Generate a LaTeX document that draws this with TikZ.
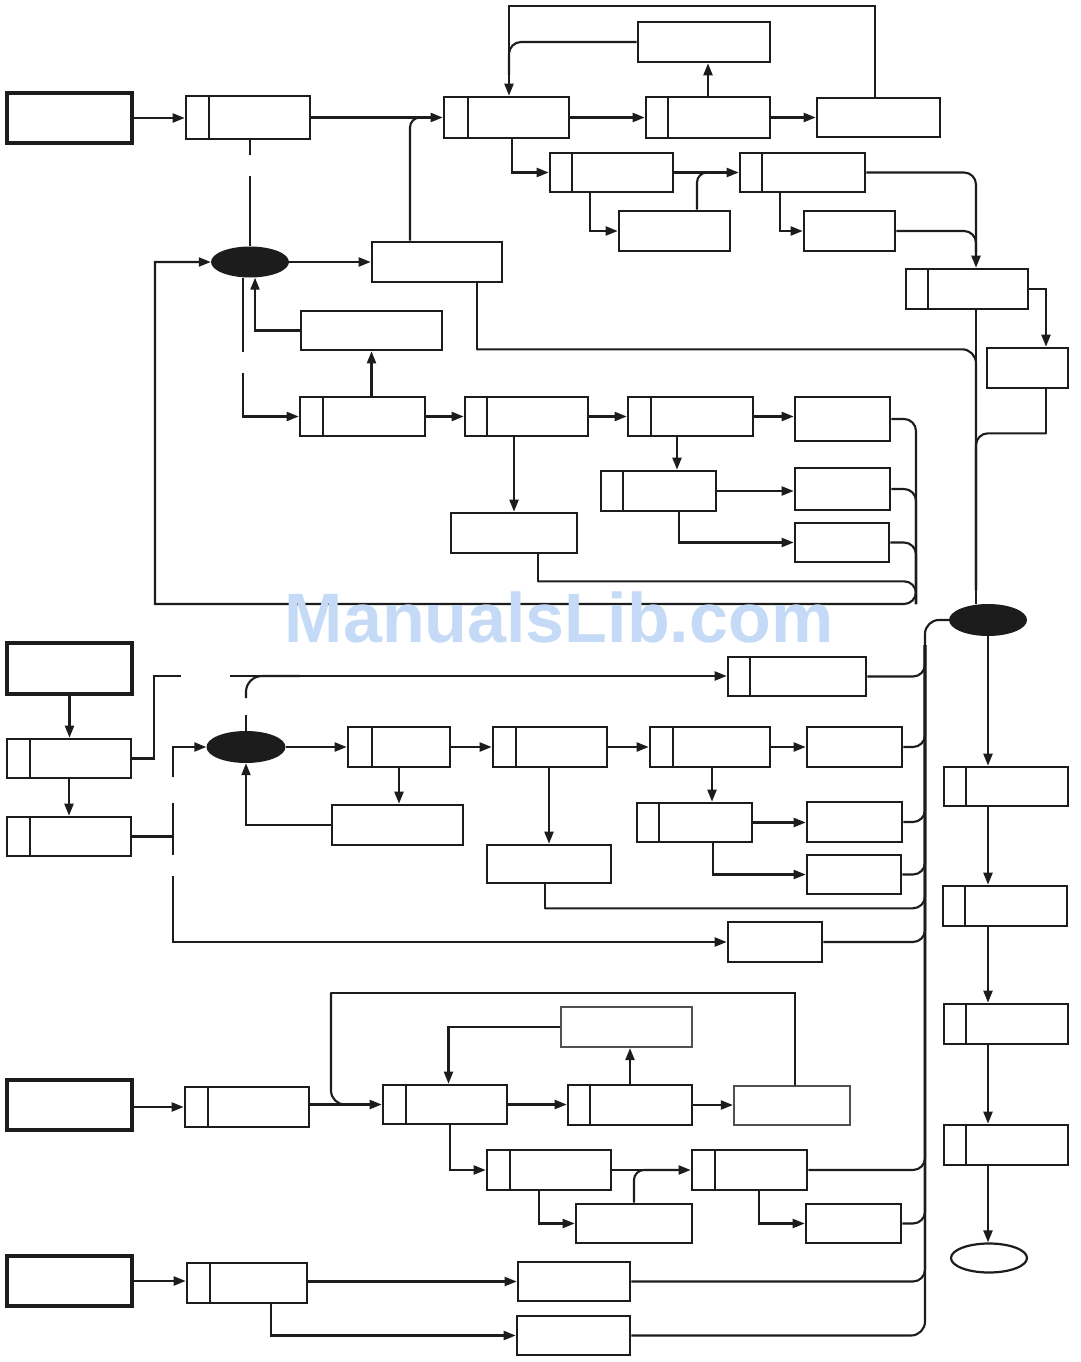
\documentclass[tikz,border=0pt]{standalone}
\usepackage{fontspec}
\newfontfamily\wmfont{Liberation Sans}
\usetikzlibrary{arrows.meta,shapes.geometric}
\definecolor{ink}{RGB}{28,28,28}
\definecolor{inkg}{RGB}{80,80,80}
\definecolor{wm}{RGB}{196,218,246}
\tikzset{
 box/.style={draw=ink,line width=2.6pt,fill=white,inner sep=0pt,rectangle},
 thickbox/.style={line width=4.2pt},
 graybox/.style={draw=inkg,line width=2.2pt},
 boxln/.style={draw=ink,line width=2.6pt},
 ln/.style={draw=ink,line width=2.1pt},
 ar/.style={ln,-{Triangle[length=12pt,width=9pt]}},
 blob/.style={ellipse,fill=ink,draw=none,inner sep=0pt},
}
\newcommand\bx[6][]{%
  \pgfmathsetmacro\bxw{#5-#3}\pgfmathsetmacro\bxh{#6-#4}%
  \pgfmathsetmacro\bxcx{(#3+#5)/2}\pgfmathsetmacro\bxcy{(#4+#6)/2}%
  \node[box,minimum width=\bxw pt,minimum height=\bxh pt,#1] (#2) at (\bxcx,\bxcy) {};}
\newcommand\sbx[7][]{%
  \bx[#1]{#2}{#3}{#4}{#5}{#6}%
  \draw[boxln] (#7,#4) -- (#7,#6);}
\begin{document}
\begin{tikzpicture}[x=1pt,y=-1pt]
\fill[white] (0,0) rectangle (1080,1362);
\path[use as bounding box] (0,0) rectangle (1080,1362);
% ---------------- top section ----------------
\bx[thickbox]{S1}{7}{93}{132}{143}
\sbx{A1}{186}{96}{310}{139}{209}
\sbx{B1}{444}{97}{569}{138}{468}
\bx{L1}{638}{22}{770}{62}
\sbx{B2}{646}{97}{770}{138}{668}
\bx{M1}{817}{98}{940}{137}
\sbx{N1}{550}{153}{673}{192}{572}
\sbx{N2}{740}{153}{865}{192}{762}
\bx{O1}{619}{211}{730}{251}
\bx{O2}{804}{211}{895}{251}
\sbx{H1}{906}{269}{1028}{309}{928}
\bx{P1}{987}{348}{1068}{388}
\bx{E1}{372}{242}{502}{282}
\node[blob,minimum width=78pt,minimum height=31pt] (J1) at (250,262) {};
\bx{F1}{301}{311}{442}{350}
\sbx{C1}{300}{397}{425}{436}{323}
\sbx{C2}{465}{397}{588}{436}{487}
\sbx{C3}{628}{397}{753}{436}{651}
\bx{K1}{795}{397}{890}{441}
\sbx{D1}{601}{471}{716}{511}{623}
\bx{K2}{795}{468}{890}{510}
\bx{K3}{795}{523}{889}{562}
\bx{G1}{451}{513}{577}{553}
\node[blob,minimum width=78pt,minimum height=32pt] (J3) at (988,620) {};
% ---------------- middle section ----------------
\bx[thickbox]{S2}{7}{643}{132}{694}
\sbx{A2}{7}{739}{131}{778}{30}
\sbx{A3}{7}{817}{131}{856}{30}
\node[blob,minimum width=79pt,minimum height=32pt] (J2) at (246,747) {};
\sbx{Q1}{728}{657}{866}{696}{750}
\sbx{D2}{348}{727}{450}{767}{372}
\bx{F2}{332}{805}{463}{845}
\sbx{D3}{493}{727}{607}{767}{516}
\bx{G2}{487}{845}{611}{883}
\sbx{D4}{650}{727}{770}{767}{673}
\bx{K4}{807}{727}{902}{767}
\sbx{D5}{637}{803}{752}{842}{659}
\bx{K5}{807}{802}{902}{842}
\bx{K6}{807}{855}{901}{894}
\bx{R1}{728}{922}{822}{962}
% ---------------- right column ----------------
\sbx{U1}{944}{767}{1068}{806}{966}
\sbx{U2}{943}{886}{1067}{926}{965}
\sbx{U3}{944}{1004}{1068}{1044}{966}
\sbx{U4}{944}{1125}{1068}{1165}{966}
\node[box,ellipse,line width=2.2pt,minimum width=76pt,minimum height=29pt] (V) at (989,1258) {};
% ---------------- bottom section ----------------
\bx[thickbox]{S3}{7}{1080}{132}{1130}
\sbx{A4}{185}{1087}{309}{1127}{208}
\sbx{B3}{383}{1085}{507}{1124}{406}
\bx[graybox]{L2}{561}{1007}{692}{1047}
\sbx{B4}{568}{1085}{692}{1125}{590}
\bx[graybox]{M2}{734}{1086}{850}{1125}
\sbx{N3}{487}{1150}{611}{1190}{510}
\sbx{N4}{692}{1150}{807}{1190}{715}
\bx{O3}{576}{1204}{692}{1243}
\bx{O4}{806}{1204}{901}{1243}
\bx[thickbox]{S4}{7}{1256}{132}{1306}
\sbx{A5}{187}{1263}{307}{1303}{210}
\bx{T1}{518}{1262}{630}{1301}
\bx{T2}{517}{1316}{630}{1355}
% ---------------- free coordinates ----------------
\coordinate (fb) at (916,604);
\coordinate (fbl) at (155,262);
\coordinate (j1a) at (243,373);
\coordinate (v976) at (976,590);
\coordinate (o2m) at (976,252);
\coordinate (b1m) at (509,75);
\coordinate (n2m) at (722,172.5);
\coordinate (e1m) at (430,117.5);
\coordinate (vj) at (925,645);
\coordinate (vt) at (925,620);
\coordinate (g1) at (181,676);
\coordinate (g2) at (230,676);
\coordinate (j2u) at (246,698);
\coordinate (j2r) at (300,676);
\coordinate (m1) at (173,747);
\coordinate (m2) at (173,777);
\coordinate (m3) at (173,803);
\coordinate (m4) at (173,855);
\coordinate (m5) at (173,876);
\coordinate (m6) at (173,942);
\coordinate (b3t) at (331,993);
\coordinate (b3j) at (365,1104.5);
\coordinate (n4j) at (680,1170);
% ---------------- top connectors ----------------
\draw[ar] (S1.east) -- (S1.east -| A1.west);
\draw[ar] (A1.east) -- (A1.east -| B1.west);
\draw[ln,rounded corners=10pt] ([xshift=-27pt]E1.north) |- (e1m);
\draw[ln] (A1.south -| J1.north) -- ++(0,15);
\draw[ln] (J1.north) -- ++(0,-70);
\draw[ar] (J1.east) -- (J1.east -| E1.west);
\draw[ln] ([xshift=-7pt]J1.south) -- ++(0,74);
\draw[ar] (j1a) |- (C1.west);
\draw[ar] (F1.west) -| ([xshift=5pt]J1.south);
\draw[ar] (F1.south |- C1.north) -- (F1.south);
\draw[ln,line cap=round] ([xshift=40pt]E1.south) -- ++(0,66) coordinate (e1c);
\draw[ln,rounded corners=14pt] (e1c) -| (v976);
\draw[ar] (C1.east) -- (C1.east -| C2.west);
\draw[ar] (C2.east) -- (C2.east -| C3.west);
\draw[ar] (C3.east) -- (C3.east -| K1.west);
\draw[ar] (G1.north |- C2.south) -- (G1.north);
\draw[ar] ([xshift=-13.5pt]C3.south) -- ([xshift=-13.5pt]C3.south |- D1.north);
\draw[ar] (D1.east) -- (D1.east -| K2.west);
\draw[ar] ([xshift=20.5pt]D1.south) |- (K3.west);
\draw[ar] (K1.east) [rounded corners=12pt] -| (fb) [sharp corners] -| (fbl) -- (J1.west);
\draw[ln,rounded corners=12pt] (K2.east) -| (fb);
\draw[ln,rounded corners=12pt] (K3.east) -| (fb);
\draw[ln,line cap=round] ([xshift=24pt]G1.south) -- ++(0,27) coordinate (g1c);
\draw[ln,rounded corners=12pt] (g1c) -| (fb);
\draw[ar] (B1.east) -- (B1.east -| B2.west);
\draw[ar] (B2.north) -- (B2.north |- L1.south);
\draw[ar] (B2.east) -- (B2.east -| M1.west);
\draw[ar] ([xshift=-3.5pt]M1.north) -- ++(0,-91) -| ([xshift=2.5pt]B1.north);
\draw[ln,rounded corners=12pt] (L1.west) -| (b1m);
\draw[ar] ([xshift=5.5pt]B1.south) |- (N1.west);
\draw[ar] (N1.east) -- (N1.east -| N2.west);
\draw[ar] ([xshift=-21.5pt]N1.south) |- (O1.west);
\draw[ln,rounded corners=10pt] ([xshift=22.5pt]O1.north) |- (n2m);
\draw[ar] ([xshift=-22.5pt]N2.south) |- (O2.west);
\draw[ar,rounded corners=12pt] (N2.east) -| ([xshift=9pt]H1.north);
\draw[ln,rounded corners=12pt] (O2.east) -| (o2m);
\draw[ar] (H1.east) -| ([xshift=18.5pt]P1.north);
\draw[ln,line cap=round] ([xshift=18.5pt]P1.south) -- ++(0,44) coordinate (p1c);
\draw[ln,rounded corners=12pt] (p1c) -| (v976);
\draw[ln] ([xshift=9pt]H1.south) -- ([xshift=9pt]H1.south |- J3.north);
% ---------------- middle connectors ----------------
\draw[ar] (S2.south) -- (S2.south |- A2.north);
\draw[ar] (A2.south) -- (A2.south |- A3.north);
\draw[ln] (A2.east) -- ++(22,0) |- (g1);
\draw[ar] (g2) -- (g2 -| Q1.west);
\draw[ln] (J2.north) -- ++(0,-16);
\draw[ln,rounded corners=16pt] (j2u) |- (j2r);
\draw[ar] (m2) -- (m1) -- (J2.west);
\draw[ln] (A3.east) -- (A3.east -| m3);
\draw[ln] (m3) -- (m4);
\draw[ar] (m5) -- (m6) -- (m6 -| R1.west);
\draw[ar] (J2.east) -- (J2.east -| D2.west);
\draw[ar] (D2.south) -- (D2.south |- F2.north);
\draw[ar] (F2.west) -| (J2.south);
\draw[ar] (D2.east) -- (D2.east -| D3.west);
\draw[ar] (D3.east) -- (D3.east -| D4.west);
\draw[ar] (D4.east) -- (D4.east -| K4.west);
\draw[ar] (G2.north |- D3.south) -- (G2.north);
\draw[ar] ([xshift=2pt]D4.south) -- ([xshift=2pt]D4.south |- D5.north);
\draw[ar] (D5.east) -- (D5.east -| K5.west);
\draw[ar] ([xshift=18.5pt]D5.south) |- (K6.west);
\draw[ln,line cap=round] ([xshift=-4pt]G2.south) -- ++(0,24) coordinate (g2c);
\draw[ln,rounded corners=12pt] (g2c) -| (vj);
\draw[ln,rounded corners=12pt] (Q1.east) -| (vj);
\draw[ln,rounded corners=12pt] (K4.east) -| (vj);
\draw[ln,rounded corners=12pt] (K5.east) -| (vj);
\draw[ln,rounded corners=12pt] (K6.east) -| (vj);
\draw[ln,rounded corners=12pt] (R1.east) -| (vj);
\draw[ln,rounded corners=12pt] (N4.east) -| (vj);
\draw[ln,rounded corners=12pt] (O4.east) -| (vj);
\draw[ln,rounded corners=12pt] (T1.east) -| (vj);
\draw[ln,rounded corners=14pt] (T2.east) -| (vt) -- (J3.west);
% ---------------- right column connectors ----------------
\draw[ar] (J3.south) -- (J3.south |- U1.north);
\draw[ar] (J3.south |- U1.south) -- (J3.south |- U2.north);
\draw[ar] (J3.south |- U2.south) -- (J3.south |- U3.north);
\draw[ar] (J3.south |- U3.south) -- (J3.south |- U4.north);
\draw[ar] (J3.south |- U4.south) -- (J3.south |- V.north);
% ---------------- bottom connectors ----------------
\draw[ar] (A4.west -| S3.east) -- (A4.west);
\draw[ar] (B3.west -| A4.east) -- (B3.west);
\draw[ln,line cap=round] ([xshift=3pt]M2.north) |- (b3t);
\draw[ln,rounded corners=14pt] (b3t) |- (b3j);
\draw[ar] (B3.east) -- (B3.east -| B4.west);
\draw[ar] (B4.north) -- (B4.north |- L2.south);
\draw[ar] (L2.west) -| ([xshift=3.5pt]B3.north);
\draw[ar] (B4.east) -- (B4.east -| M2.west);
\draw[ar] ([xshift=5pt]B3.south) |- (N3.west);
\draw[ar] (N3.east) -- (N3.east -| N4.west);
\draw[ar] ([xshift=-10pt]N3.south) |- (O3.west);
\draw[ln,rounded corners=10pt] (O3.north) |- (n4j);
\draw[ar] ([xshift=9.5pt]N4.south) |- (O4.west);
\draw[ar] (S4.east) -- (S4.east -| A5.west);
\draw[ar] (T1.west -| A5.east) -- (T1.west);
\draw[ar] ([xshift=24pt]A5.south) |- (T2.west);
% ---------------- watermark ----------------
\node[font=\wmfont\bfseries\fontsize{70}{70}\selectfont,text=wm,anchor=base,inner sep=0pt] (wmk) at (559,642) {ManualsLib.com};
\end{tikzpicture}
\end{document}
